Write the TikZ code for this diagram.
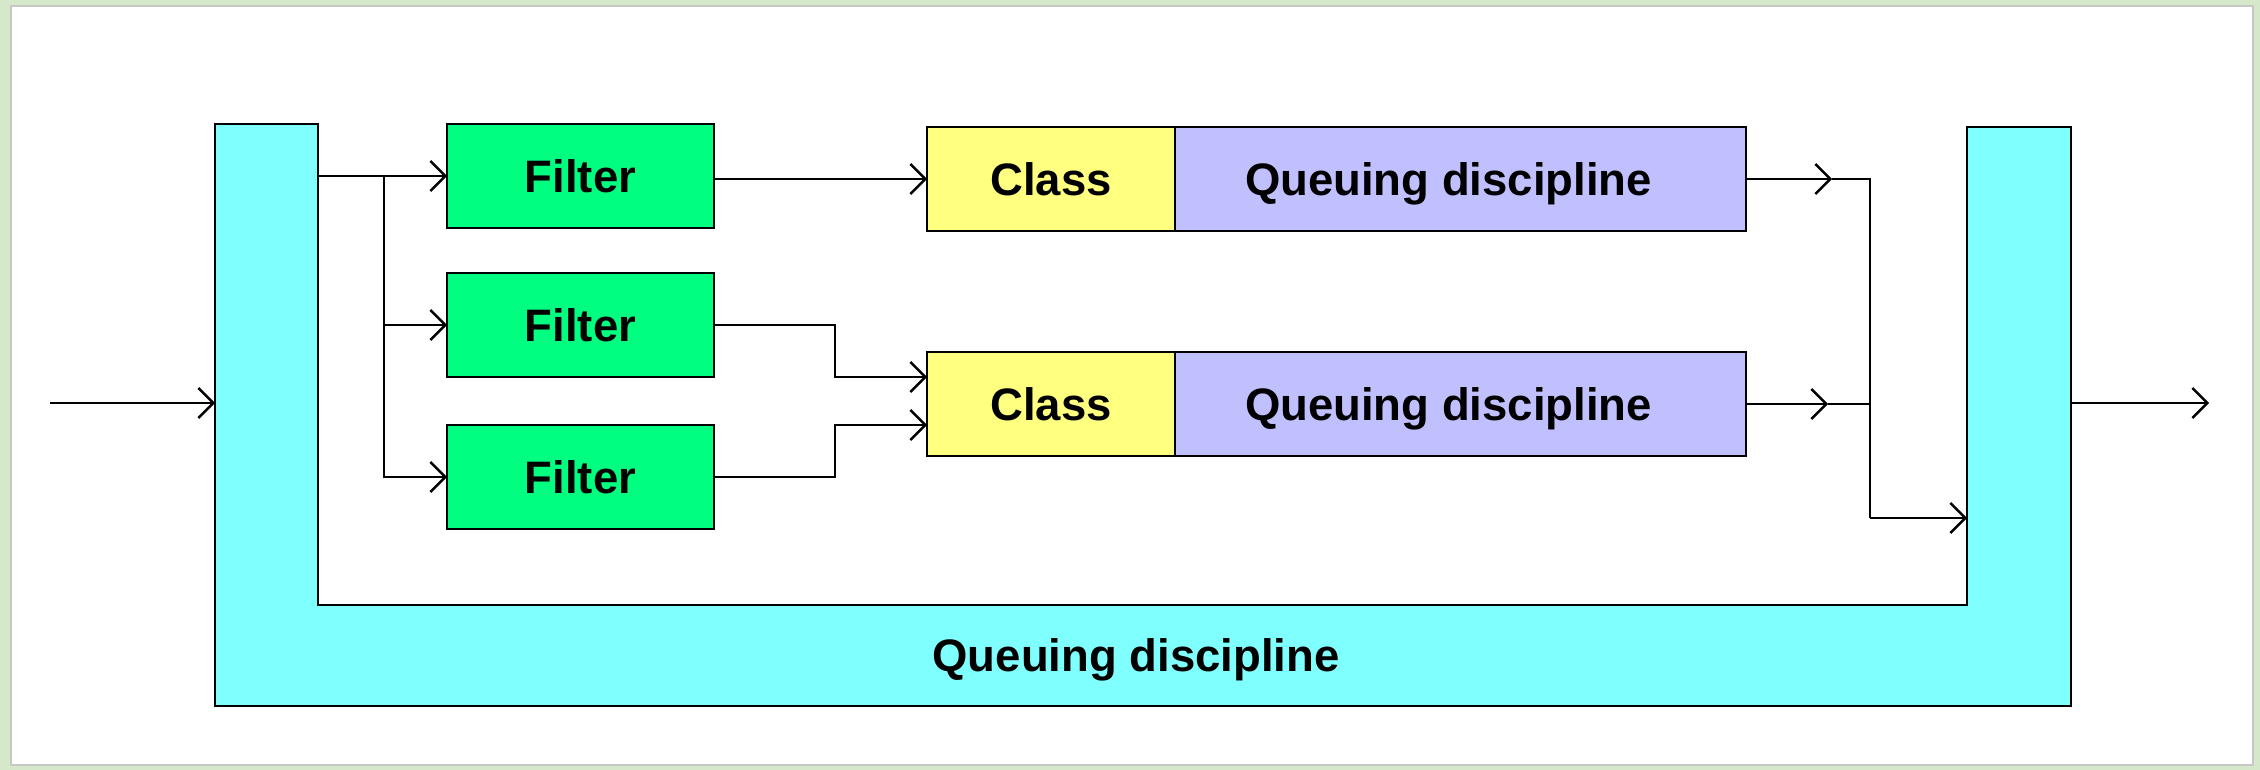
\documentclass[tikz,border=0pt]{standalone}
\usepackage{fontspec}
\setmainfont{Liberation Sans}
\usetikzlibrary{arrows.meta}

\definecolor{qcyan}{RGB}{128,255,255}
\definecolor{fgreen}{RGB}{0,255,128}
\definecolor{cyellow}{RGB}{255,255,128}
\definecolor{qlav}{RGB}{192,192,255}
\definecolor{paper}{RGB}{214,232,202}

\begin{document}
\begin{tikzpicture}[x=0.5pt,y=-0.5pt,
  box/.style 2 args={draw=black, line width=1.4pt, inner sep=0pt, outer sep=0pt,
    minimum width=#1*0.5pt, minimum height=#2*0.5pt,
    text height=16.3pt, text depth=0pt,
    font=\fontsize{22.75}{26}\selectfont\bfseries},
  filterbox/.style={box={267}{104}, fill=fgreen},
  classbox/.style={box={248}{104}, fill=cyellow},
  qdiscbox/.style={box={571}{104}, fill=qlav},
  ushape/.style 2 args={fill=qcyan, draw=none, inner sep=0pt, outer sep=0pt,
    minimum width=#1*0.5pt, minimum height=#2*0.5pt,
    text height=16.3pt, text depth=0pt,
    font=\fontsize{22.75}{26}\selectfont\bfseries},
  arr/.style={draw=black, line width=1.25pt, line join=miter,
    -{Straight Barb[length=7.5pt,width=15pt,line width=1.2pt]}},
  wire/.style={draw=black, line width=1.25pt, line join=miter}]

  % page and white panel
  \path[use as bounding box] (0,0) rectangle (2260,770);
  \fill[paper] (0,0) rectangle (2260,770);
  \filldraw[fill=white, draw=black!22, line width=1pt] (11,6) rectangle (2253,765);

  % outer queuing discipline: U-shaped container
  \node[ushape={103}{582}] (qin) at (266.5,415) {};
  \node[ushape={104}{579}] (qout) at (2019,416.5) {};
  \node[ushape={1856}{101}] (qband) at (1143,655.5) {Queuing discipline\kern7pt};
  \draw[line width=1.4pt, line join=miter]
    (qin.north west) -- (qin.north east) -- (qin.east |- qband.north)
    -- (qout.west |- qband.north) -- (qout.north west) -- (qout.north east)
    -- (qout.south east) -- (qin.south west) -- cycle;

  % filters
  \node[filterbox] (f1) at (580.5,176) {Filter};
  \node[filterbox] (f2) at (580.5,325) {Filter};
  \node[filterbox] (f3) at (580.5,477) {Filter};

  % classes with their queuing disciplines
  \node[classbox] (c1) at (1051,179) {Class};
  \node[qdiscbox, anchor=west] (q1) at (c1.east) {Queuing discipline\kern12pt};
  \node[classbox] (c2) at (1051,404) {Class};
  \node[qdiscbox, anchor=west] (q2) at (c2.east) {Queuing discipline\kern12pt};

  % input side
  \coordinate (src) at (50,403);
  \draw[arr] (src) -- (src -| qin.west);
  \coordinate (split) at (384,176);
  \draw[arr] (qin.east |- f1.west) -- (f1.west);
  \draw[arr] (split) |- (f2.west);
  \draw[arr] (split) |- (f3.west);

  % filters to classes
  \coordinate (c2a) at ([yshift=13.5pt]c2.west);
  \coordinate (c2b) at ([yshift=-10.5pt]c2.west);
  \draw[arr] (f1.east |- c1.west) -- (c1.west);
  \draw[arr] (f2.east) -- ++(121,0) |- (c2a);
  \draw[arr] (f3.east) -- ++(121,0) |- (c2b);

  % classes to the outer discipline
  \coordinate (join) at (1870,518);
  \coordinate (t1) at (1832,179);
  \coordinate (t2) at (1828,404);
  \draw[arr] (q1.east) -- (t1);
  \draw[wire] (t1) -| (join);
  \draw[wire] (t2) -- (t2 -| join);
  \draw[arr] (q2.east) -- (t2);
  \draw[arr] (join) -- (join -| qout.west);

  % output
  \coordinate (dst) at (2209,403);
  \draw[arr] (qout.east |- dst) -- (dst);
\end{tikzpicture}
\end{document}
